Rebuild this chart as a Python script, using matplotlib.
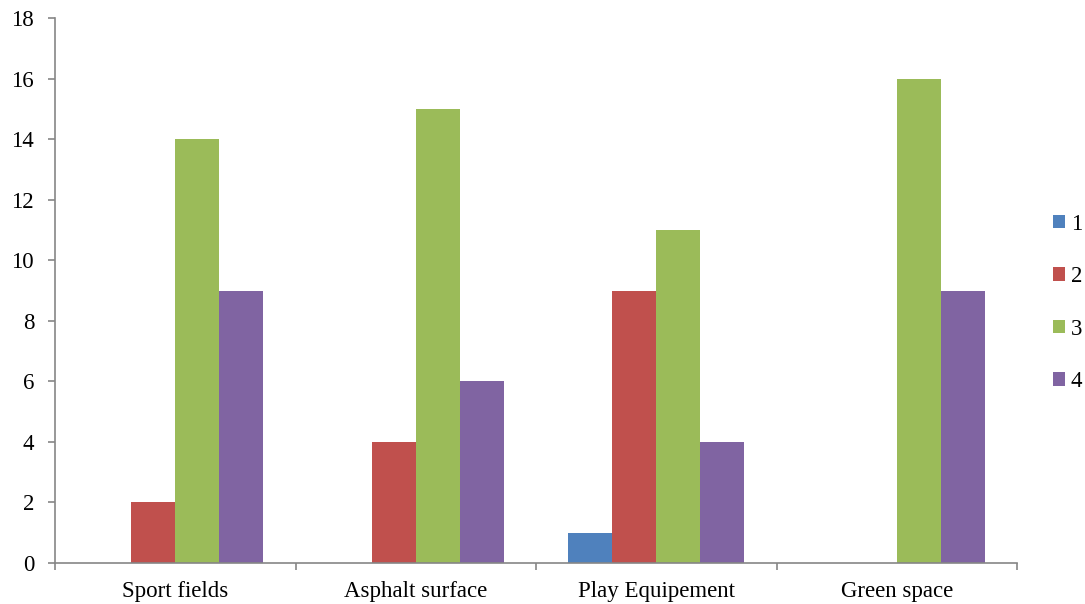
import matplotlib
matplotlib.use("Agg")
import matplotlib.pyplot as plt
import numpy as np
from matplotlib.patches import Patch

categories = ["Sport fields", "Asphalt surface", "Play Equipement", "Green space"]
series_names = ["1", "2", "3", "4"]
s1 = [0, 0, 1, 0]
s2 = [2, 4, 9, 0]
s3 = [14, 15, 11, 16]
s4 = [9, 6, 4, 9]
series = [s1, s2, s3, s4]
colors = ["#4F81BD", "#C0504D", "#9BBB59", "#8064A2"]

plt.rcParams['font.family'] = ['Liberation Serif', 'DejaVu Serif']
FS = 16.5

fig = plt.figure(figsize=(10.85, 6.04), dpi=100)
ax = fig.add_axes([55/1085, 41/604, (1017-55)/1085, (563-18)/604])

x = np.arange(len(categories))
bw = 44/240
for i, (vals, c) in enumerate(zip(series, colors)):
    ax.bar(x + (i - 1.5) * bw, vals, width=bw, color=c, edgecolor='none', label=series_names[i])

ax.set_xlim(-0.5, len(categories) - 0.5)
ax.set_ylim(0, 18)
ax.set_yticks(np.arange(0, 19, 2))
ax.set_xticks(x)
ax.set_xticklabels(categories)
ax.set_xticks(np.arange(-0.5, len(categories), 1), minor=True)
ax.tick_params(axis='x', which='major', length=0, labelsize=FS, pad=13)
ax.tick_params(axis='x', which='minor', length=5, width=1.2, color='#868686', direction='out')
ax.tick_params(axis='y', length=5, width=1.2, color='#868686', labelsize=FS, pad=10)
for s in ['top', 'right']:
    ax.spines[s].set_visible(False)
for s in ['left', 'bottom']:
    ax.spines[s].set_color('#868686')
    ax.spines[s].set_linewidth(1.2)

handles = [Patch(facecolor=c, edgecolor='none') for c in colors]
leg = fig.legend(handles, series_names, loc='center left', bbox_to_anchor=(1053/1085, 1 - 303/604),
                 frameon=False, fontsize=FS, handlelength=0.52, handleheight=0.52,
                 handletextpad=0.25, labelspacing=1.37, borderpad=0, borderaxespad=0)

fig.savefig("out.png", dpi=100)
